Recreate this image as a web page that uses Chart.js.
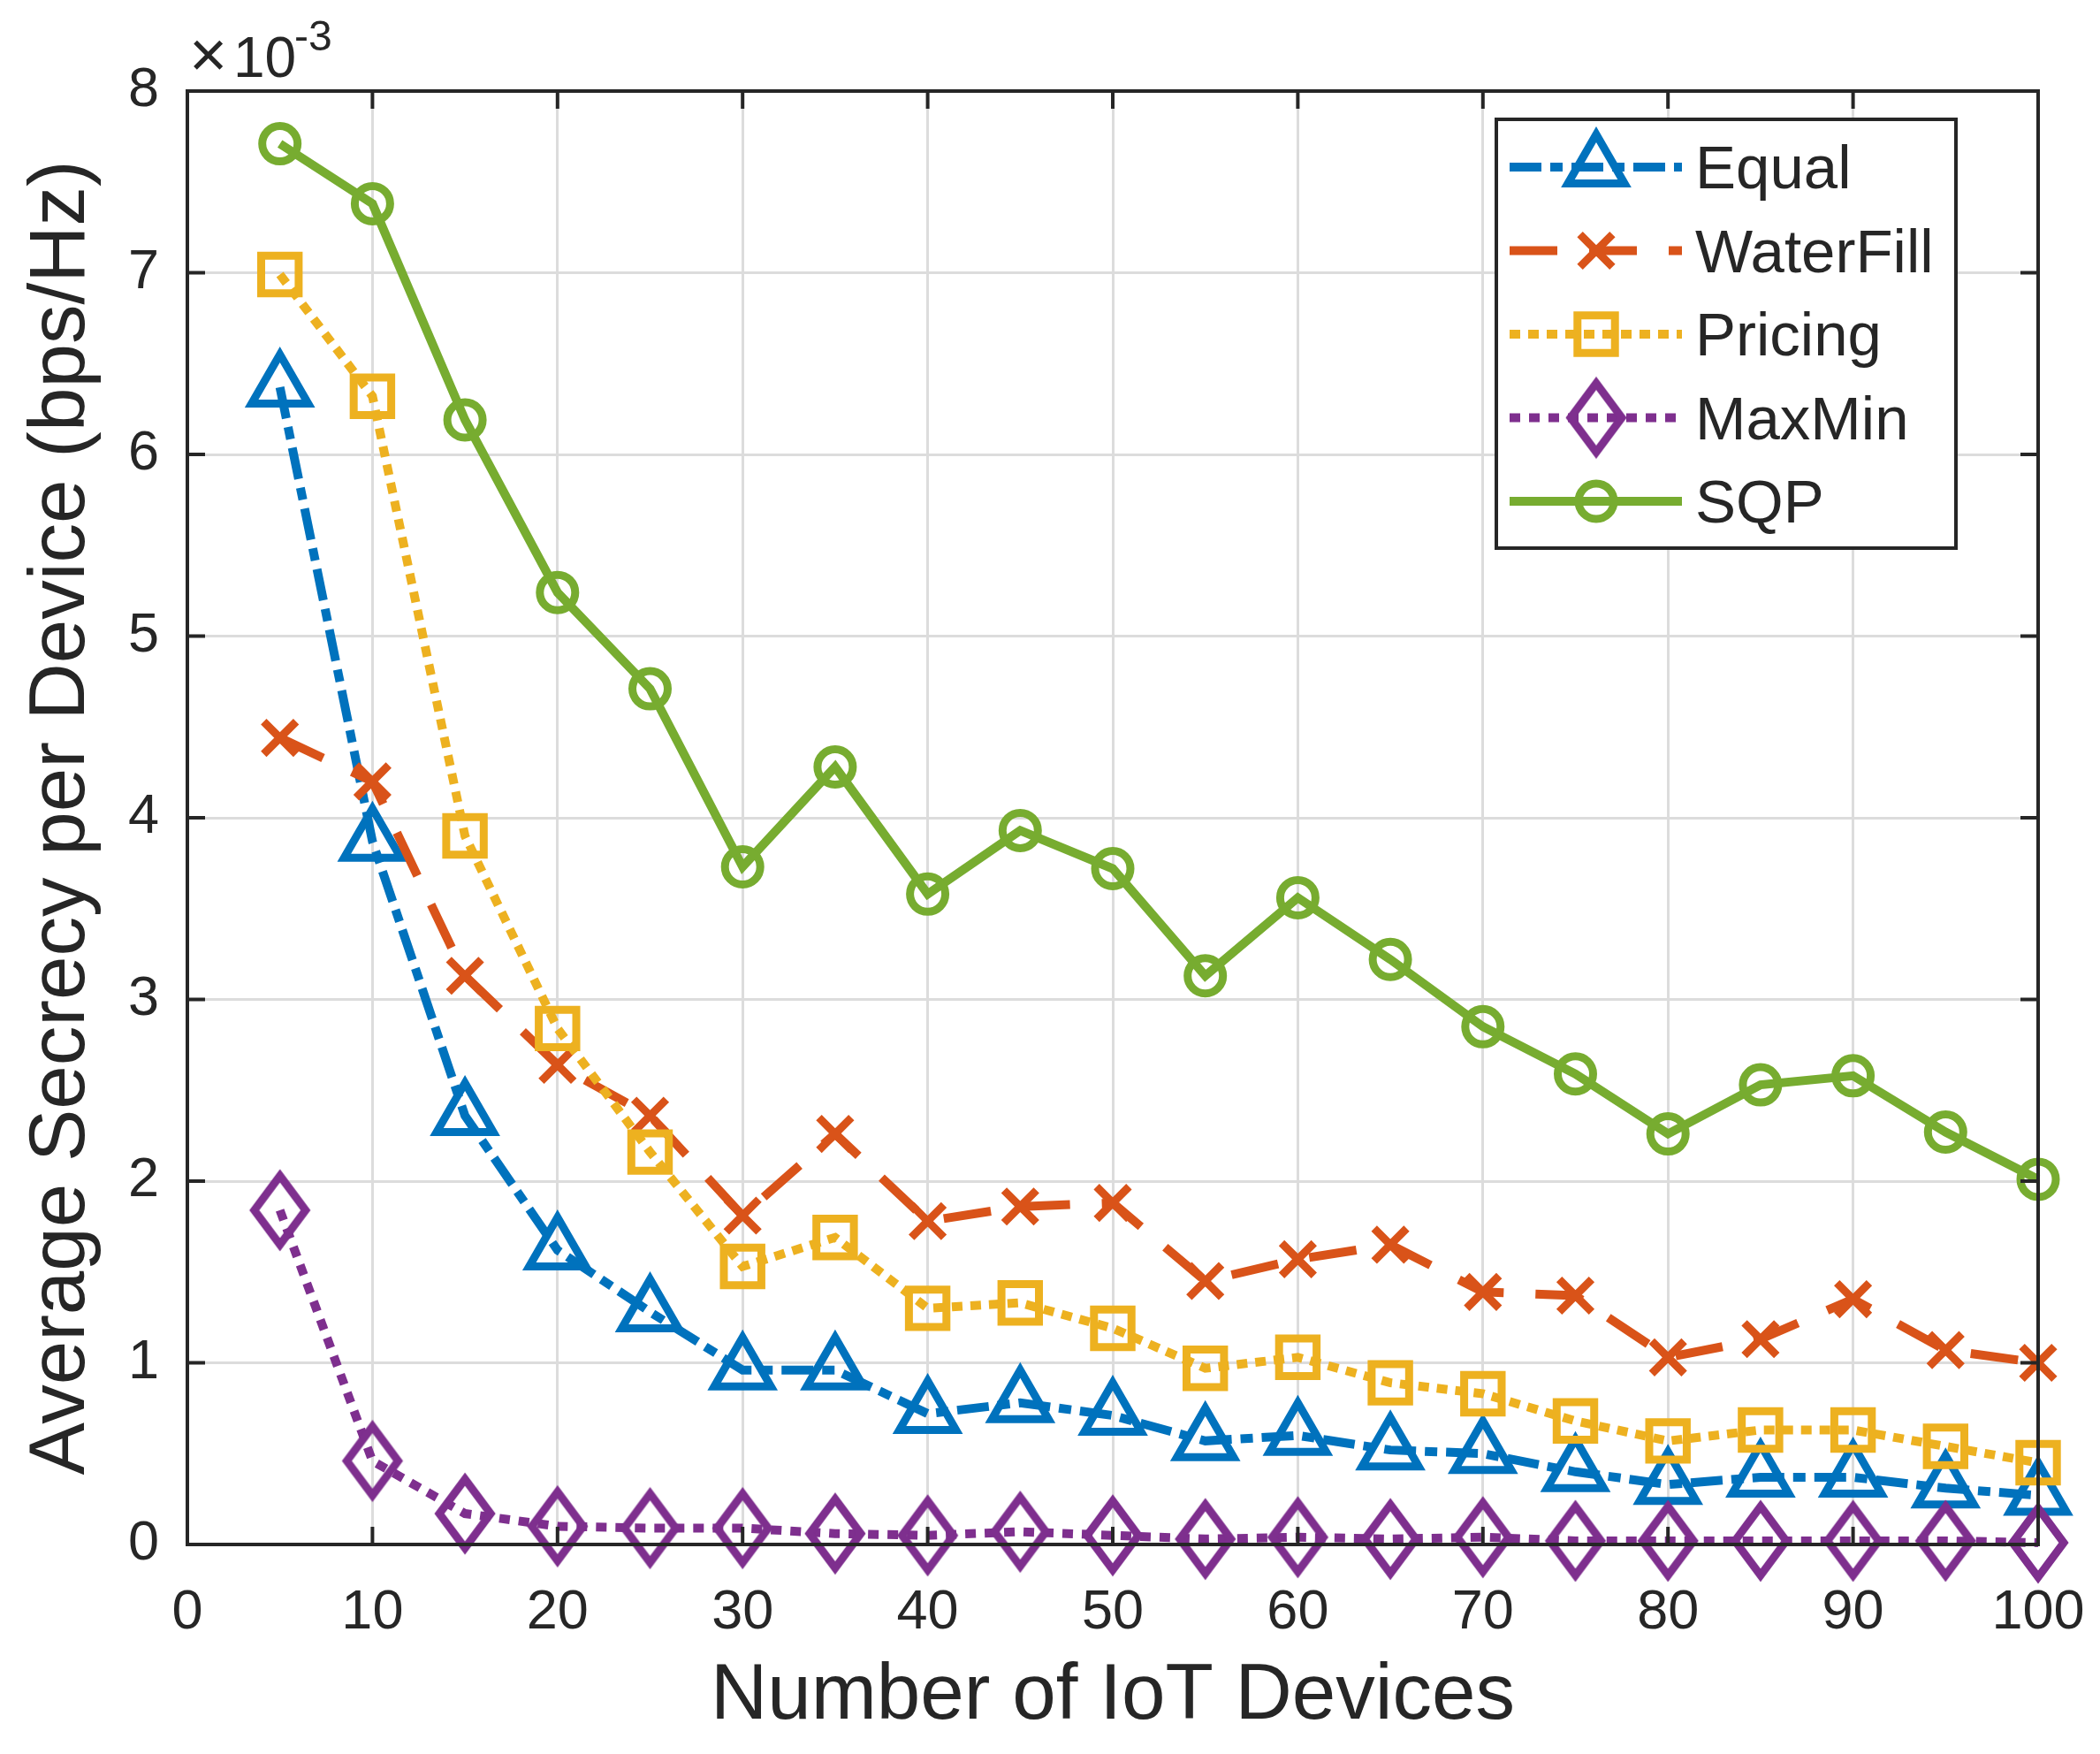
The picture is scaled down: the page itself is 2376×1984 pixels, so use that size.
<!DOCTYPE html>
<html>
<head>
<meta charset="utf-8">
<script src="https://cdn.jsdelivr.net/npm/chart.js@4.4.1/dist/chart.umd.min.js"></script>
<style>
  html, body { margin: 0; padding: 0; background: #fff; }
  canvas { display: block; }
</style>
</head>
<body>
<canvas id="chart" width="2376" height="1984"></canvas>
<script>
// values are in units of 10^-3 bps/Hz (the axis shows the x10^-3 factor)
const devices = [5, 10, 15, 20, 25, 30, 35, 40, 45, 50, 55, 60, 65, 70, 75, 80, 85, 90, 95, 100];
const equal = [6.37, 3.87, 2.36, 1.62, 1.28, 0.96, 0.96, 0.72, 0.78, 0.71, 0.57, 0.60, 0.52, 0.50, 0.40, 0.33, 0.37, 0.37, 0.31, 0.27];
const waterFill = [4.44, 4.20, 3.13, 2.64, 2.36, 1.81, 2.26, 1.78, 1.86, 1.88, 1.45, 1.57, 1.65, 1.39, 1.37, 1.03, 1.13, 1.35, 1.07, 1.00];
const pricing = [6.99, 6.32, 3.90, 2.84, 2.16, 1.53, 1.69, 1.30, 1.33, 1.19, 0.97, 1.03, 0.89, 0.83, 0.68, 0.57, 0.63, 0.63, 0.54, 0.45];
const maxMin = [1.84, 0.46, 0.17, 0.10, 0.09, 0.09, 0.06, 0.05, 0.07, 0.05, 0.03, 0.04, 0.03, 0.04, 0.02, 0.02, 0.02, 0.02, 0.02, 0.01];
const sqp = [7.71, 7.38, 6.19, 5.24, 4.71, 3.73, 4.28, 3.58, 3.93, 3.72, 3.13, 3.56, 3.22, 2.85, 2.59, 2.26, 2.53, 2.58, 2.27, 2.01];
const seriesNames = ['Equal', 'WaterFill', 'Pricing', 'MaxMin', 'SQP'];
const yExponent = '-3';

const INK = '#262626';
const FONT = '"Liberation Sans", Arial, sans-serif';
Chart.defaults.font.family = FONT;
Chart.defaults.color = INK;

// matlab style diamond (taller than wide) as a small canvas
function diamondMarker(color, halfW, halfH, lw) {
    const pad = lw + 2;
    const c = document.createElement('canvas');
    c.width = 2 * (halfW + pad);
    c.height = 2 * (halfH + pad);
    const g = c.getContext('2d');
    const cx = c.width / 2, cy = c.height / 2;
    g.strokeStyle = color;
    g.lineWidth = lw;
    g.lineJoin = 'miter';
    g.beginPath();
    g.moveTo(cx, cy - halfH);
    g.lineTo(cx + halfW, cy);
    g.lineTo(cx, cy + halfH);
    g.lineTo(cx - halfW, cy);
    g.closePath();
    g.stroke();
    return c;
}

function series(label, values, color, dash, style, radius, order) {
    return {
        label: label,
        data: devices.map((d, i) => ({ x: d, y: values[i] })),
        borderColor: color,
        borderWidth: 10,
        borderDash: dash,
        pointStyle: style,
        pointRadius: radius,
        pointHoverRadius: radius,
        pointBorderWidth: 9,
        pointBorderColor: color,
        pointBackgroundColor: 'rgba(0,0,0,0)',
        tension: 0,
        clip: false,
        order: order
    };
}

const datasets = [
    series(seriesNames[0], equal, '#0072BD', [36, 10, 14, 10], 'triangle', 37, 5),
    series(seriesNames[1], waterFill, '#D95319', [54, 36], 'crossRot', 26, 4),
    series(seriesNames[2], pricing, '#EDB120', [12, 9], 'rect', 30, 3),
    series(seriesNames[3], maxMin, '#7E2F8E', [12, 10], diamondMarker('#7E2F8E', 29, 39, 9), 30, 2),
    series(seriesNames[4], sqp, '#77AC30', [], 'circle', 20, 1)
];

// box, inward ticks and the x10^-3 factor
const matlabAxes = {
    id: 'matlabAxes',
    afterDatasetsDraw(chart) {
        const { ctx, chartArea: a, scales: { x, y } } = chart;
        const tl = 20;
        ctx.save();
        ctx.strokeStyle = INK;
        ctx.lineWidth = 4;
        ctx.setLineDash([]);
        ctx.beginPath();
        x.ticks.forEach(t => {
            const px = x.getPixelForValue(t.value);
            ctx.moveTo(px, a.bottom); ctx.lineTo(px, a.bottom - tl);
            ctx.moveTo(px, a.top); ctx.lineTo(px, a.top + tl);
        });
        y.ticks.forEach(t => {
            const py = y.getPixelForValue(t.value);
            ctx.moveTo(a.left, py); ctx.lineTo(a.left + tl, py);
            ctx.moveTo(a.right, py); ctx.lineTo(a.right - tl, py);
        });
        ctx.stroke();
        ctx.strokeRect(a.left, a.top, a.right - a.left, a.bottom - a.top);

        ctx.fillStyle = INK;
        ctx.textBaseline = 'alphabetic';
        ctx.textAlign = 'left';
        ctx.font = '74px ' + FONT;
        ctx.fillText('\u00d7', 214, 87);
        ctx.font = '64px ' + FONT;
        ctx.fillText('10', 264, 87);
        ctx.font = '48px ' + FONT;
        ctx.fillText(yExponent, 333, 57);
        ctx.restore();
    }
};

// legend with line samples like matlab
const matlabLegend = {
    id: 'matlabLegend',
    afterDraw(chart) {
        const ctx = chart.ctx;
        const bx = 1693, by = 135, bw = 520, bh = 485;
        ctx.save();
        ctx.fillStyle = '#fff';
        ctx.fillRect(bx, by, bw, bh);
        ctx.strokeStyle = INK;
        ctx.lineWidth = 4;
        ctx.strokeRect(bx, by, bw, bh);

        chart.data.datasets.forEach((ds, i) => {
            const rowY = 189 + i * 94.5;
            ctx.strokeStyle = ds.borderColor;
            ctx.lineWidth = ds.borderWidth;
            ctx.setLineDash(ds.borderDash);
            ctx.beginPath();
            ctx.moveTo(1708, rowY);
            ctx.lineTo(1903, rowY);
            ctx.stroke();
            ctx.setLineDash([]);
            ctx.lineWidth = ds.pointBorderWidth;
            ctx.fillStyle = 'rgba(0,0,0,0)';
            Chart.helpers.drawPoint(ctx, {
                pointStyle: ds.pointStyle,
                radius: ds.pointRadius,
                rotation: 0,
                borderWidth: ds.pointBorderWidth
            }, 1806, rowY);
            ctx.fillStyle = INK;
            ctx.font = '69px ' + FONT;
            ctx.textAlign = 'left';
            ctx.textBaseline = 'alphabetic';
            ctx.fillText(ds.label, 1918, rowY + 24);
        });
        ctx.restore();
    }
};

new Chart(document.getElementById('chart'), {
    type: 'line',
    data: { datasets: datasets },
    options: {
        responsive: false,
        animation: false,
        devicePixelRatio: 1,
        layout: { padding: { top: 103, right: 70, left: 0, bottom: 0 } },
        plugins: { legend: { display: false }, tooltip: { enabled: false } },
        scales: {
            x: {
                type: 'linear',
                min: 0,
                max: 100,
                ticks: { stepSize: 10, padding: 40, maxRotation: 0, color: INK, font: { size: 63 } },
                grid: { color: '#dcdcdc', lineWidth: 3, drawTicks: false },
                border: { display: false },
                title: {
                    display: true,
                    text: 'Number of IoT Devices',
                    color: INK,
                    font: { size: 89 },
                    padding: { top: 0, bottom: 11 }
                },
                afterFit(scale) {
                    scale.height = 237;
                    // keep the plot box where the figure has it
                    scale.paddingLeft = 0;
                    scale.paddingRight = 0;
                }
            },
            y: {
                type: 'linear',
                min: 0,
                max: 8,
                ticks: { stepSize: 1, padding: 32, color: INK, font: { size: 63 } },
                grid: { color: '#dcdcdc', lineWidth: 3, drawTicks: false },
                border: { display: false },
                title: {
                    display: true,
                    text: 'Average Secrecy per Device (bps/Hz)',
                    color: INK,
                    font: { size: 89 },
                    padding: { top: 17, bottom: 0 }
                },
                afterFit(scale) {
                    scale.width = 212;
                    scale.paddingTop = 0;
                    scale.paddingBottom = 0;
                }
            }
        }
    },
    plugins: [matlabAxes, matlabLegend]
});
</script>
</body>
</html>
